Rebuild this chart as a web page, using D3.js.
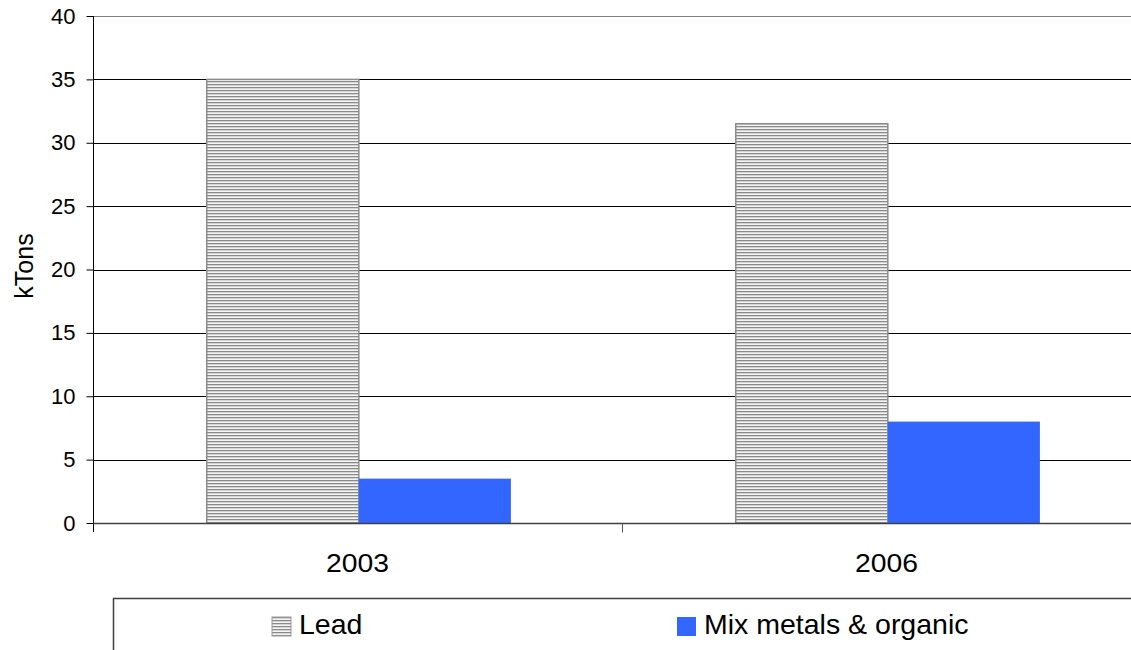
<!DOCTYPE html>
<html>
<head>
<meta charset="utf-8">
<script src="https://cdn.jsdelivr.net/npm/d3@7"></script>
<style>
  body { margin: 0; background: #fff; }
  svg { display: block; font-family: "Liberation Sans", Arial, sans-serif; }
</style>
</head>
<body>
<svg id="bar" width="1131" height="650"></svg>
<script>
var years = ["2003", "2006"];
var seriesNames = ["Lead", "Mix metals & organic"];
var lead = [35, 31.5];
var mix = [3.5, 8];
var yTicks = [0, 5, 10, 15, 20, 25, 30, 35, 40];

var svg = d3.select("svg#bar");
var plotLeft = 93, plotTop = 16, plotBottom = 523, plotRight = 1151;

var data = years.map(function(yr, i) {
    return { year: yr, Lead: lead[i], "Mix metals & organic": mix[i] };
});

var x0 = d3.scaleBand().domain(years).range([plotLeft, plotRight]);
var x1 = d3.scaleBand().domain(seriesNames).range([x0.bandwidth() * 0.215, x0.bandwidth() * 0.79]);
var y = d3.scaleLinear().domain([0, 40]).range([plotBottom, plotTop]);
var color = { "Lead": "url(#stripes)", "Mix metals & organic": "#3366ff" };
var stroke = { "Lead": "#8c8c8c", "Mix metals & organic": "none" };

var defs = svg.append("defs");
var pat = defs.append("pattern")
    .attr("id", "stripes")
    .attr("patternUnits", "userSpaceOnUse")
    .attr("width", 6)
    .attr("height", 3);
pat.append("rect").attr("width", 6).attr("height", 3).attr("fill", "#f4f4f4");
pat.append("rect").attr("width", 6).attr("height", 1.3).attr("fill", "#8a8a8a");

// gridlines
svg.append("g")
    .selectAll("line")
    .data(yTicks.slice(1))
    .enter()
    .append("line")
    .attr("x1", plotLeft)
    .attr("x2", plotRight)
    .attr("y1", d => Math.round(y(d)) + 0.5)
    .attr("y2", d => Math.round(y(d)) + 0.5)
    .attr("stroke", d => d === 40 ? "#808080" : "#000")
    .attr("stroke-width", 1);

// bars
svg.append("g")
    .selectAll("g")
    .data(data)
    .enter()
    .append("g")
    .attr("transform", d => "translate(" + x0(d.year) + ",0)")
    .selectAll("rect")
    .data(d => seriesNames.map(k => ({ key: k, value: d[k] })))
    .enter()
    .append("rect")
    .attr("x", d => x1(d.key))
    .attr("y", d => y(d.value))
    .attr("width", x1.bandwidth())
    .attr("height", d => plotBottom - y(d.value))
    .attr("fill", d => color[d.key])
    .attr("stroke", d => stroke[d.key])
    .attr("stroke-width", 1.5);

// y axis
var yAxis = svg.append("g")
    .attr("transform", "translate(" + (plotLeft + 0.5) + ",0)")
    .call(d3.axisLeft(y).tickValues(yTicks).tickSize(7).tickPadding(11).tickSizeOuter(0));
yAxis.select(".domain").attr("stroke", "#000").attr("d", "M0," + plotTop + "V" + (plotBottom + 9));
yAxis.selectAll(".tick line").attr("stroke", "#000");
yAxis.selectAll(".tick text")
    .attr("fill", "#000")
    .style("font-size", "22px")
    .style("font-family", "Liberation Sans, Arial, sans-serif");

// x axis
var xAxis = svg.append("g")
    .attr("transform", "translate(0," + (plotBottom + 0.5) + ")");
xAxis.append("line")
    .attr("x1", plotLeft).attr("x2", plotRight)
    .attr("stroke", "#404040").attr("stroke-width", 1.5);
xAxis.selectAll("line.sep")
    .data(years.slice(1))
    .enter()
    .append("line")
    .attr("class", "sep")
    .attr("x1", d => Math.round(x0(d)) + 0.5)
    .attr("x2", d => Math.round(x0(d)) + 0.5)
    .attr("y1", 0)
    .attr("y2", 9)
    .attr("stroke", "#555");
xAxis.selectAll("text")
    .data(years)
    .enter()
    .append("text")
    .attr("transform", d => "translate(" + (x0(d) + x0.bandwidth() / 2) + ",48) scale(1.09,1)")
    .attr("text-anchor", "middle")
    .style("font-size", "26px")
    .attr("fill", "#000")
    .text(d => d);

// axis title
svg.append("text")
    .attr("transform", "translate(33," + 266 + ") rotate(-90)")
    .attr("text-anchor", "middle")
    .style("font-size", "25px")
    .attr("fill", "#000")
    .text("kTons");

// legend
var legend = svg.append("g").attr("class", "legend");
legend.append("rect")
    .attr("x", 113.5)
    .attr("y", 598.5)
    .attr("width", 1100)
    .attr("height", 80)
    .attr("fill", "none")
    .attr("stroke", "#404040")
    .attr("stroke-width", 1.5);

var legX = [272, 677];
var item = legend.selectAll("g")
    .data(seriesNames)
    .enter()
    .append("g")
    .attr("transform", (d, i) => "translate(" + legX[i] + ",617)");
item.append("rect")
    .attr("width", 19)
    .attr("height", 19)
    .attr("fill", d => color[d])
    .attr("stroke", d => stroke[d] === "none" ? "none" : "#999")
    .attr("stroke-width", 1);
item.append("text")
    .attr("x", 27)
    .attr("y", 17)
    .style("font-size", "28.5px")
    .attr("fill", "#000")
    .text(d => d);
</script>
</body>
</html>
